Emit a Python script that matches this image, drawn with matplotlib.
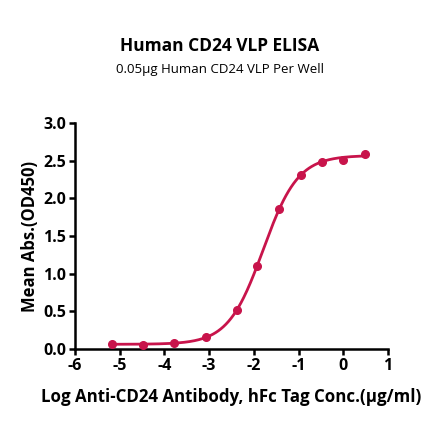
import numpy as np
import matplotlib
matplotlib.use("Agg")
import matplotlib.pyplot as plt

plt.rcParams['font.family'] = ['Open Sans', 'DejaVu Sans']

log_conc = [-5.18, -4.49, -3.79, -3.08, -2.38, -1.92, -1.44, -0.95, -0.48, 0.0, 0.48]
od450 = [0.062, 0.053, 0.080, 0.164, 0.518, 1.108, 1.852, 2.313, 2.486, 2.508, 2.592]
x_ticks = [-6, -5, -4, -3, -2, -1, 0, 1]
y_ticks = [0.0, 0.5, 1.0, 1.5, 2.0, 2.5, 3.0]

title = "Human CD24 VLP ELISA"
subtitle = "0.05µg Human CD24 VLP Per Well"
xlabel = "Log Anti-CD24 Antibody, hFc Tag Conc.(µg/ml)"
ylabel = "Mean Abs.(OD450)"
color = "#C8144B"

x = np.array(log_conc)
y = np.array(od450)

def f4(p, x):
    b, t, c, h = p
    return b + (t - b) / (1 + 10 ** ((c - x) * h))

# Gauss-Newton fit of 4PL
p = np.array([y.min(), y.max(), -1.8, 1.0])
for _ in range(200):
    r = y - f4(p, x)
    J = np.zeros((len(x), 4))
    for i in range(4):
        dp = np.zeros(4); dp[i] = 1e-6
        J[:, i] = (f4(p + dp, x) - f4(p - dp, x)) / 2e-6
    step, *_ = np.linalg.lstsq(J, r, rcond=None)
    p = p + 0.5 * step

xs = np.linspace(x.min(), x.max(), 300)

fig = plt.figure(figsize=(4.4, 4.41), dpi=100)
ax = fig.add_axes([75/440, 1 - 349/441, (388-75)/440, (349-123)/441])
ax.plot(xs, f4(p, xs), color=color, lw=2.0, zorder=2)
ax.plot(x, y, 'o', color=color, ms=5.5, zorder=3, clip_on=False)

ax.set_xlim(-6, 1)
ax.set_ylim(0, 3.0)
ax.set_xticks(x_ticks)
ax.set_xticklabels([str(v) for v in x_ticks])
ax.set_yticks(y_ticks)
ax.set_yticklabels([f"{v:.1f}" for v in y_ticks])
for s in ['top', 'right']:
    ax.spines[s].set_visible(False)
for s in ['left', 'bottom']:
    ax.spines[s].set_linewidth(1.8)
ax.tick_params(axis='both', direction='out', length=4, width=1.8, labelsize=11.5, pad=2.5)
for lab in ax.get_xticklabels() + ax.get_yticklabels():
    lab.set_fontweight('bold')

ax.set_xlabel(xlabel, fontsize=12.2, fontweight='bold', labelpad=10)
ax.set_ylabel(ylabel, fontsize=12, fontweight='bold', labelpad=3)

fig.text(0.5, 1 - 46/441, title, ha='center', va='center', fontsize=12.5, fontweight='bold')
fig.text(0.5, 1 - 70/441, subtitle, ha='center', va='center', fontsize=9.5)

fig.savefig("out.png", dpi=100)
